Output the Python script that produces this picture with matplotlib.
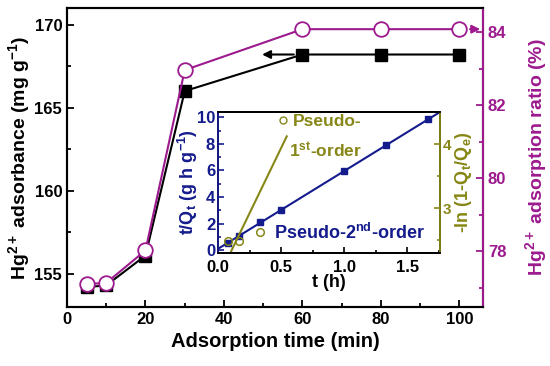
import numpy as np
import matplotlib
matplotlib.use("Agg")
import matplotlib.pyplot as plt
from matplotlib.lines import Line2D

plt.rcParams["font.family"] = ["Liberation Sans", "DejaVu Sans"]
plt.rcParams["font.weight"] = "bold"
plt.rcParams["mathtext.fontset"] = "custom"
plt.rcParams["mathtext.rm"] = "Liberation Sans:bold"
plt.rcParams["mathtext.it"] = "Liberation Sans:bold"
plt.rcParams["mathtext.bf"] = "Liberation Sans:bold"

# main data
time_min = [5, 10, 20, 30, 60, 80, 100]
adsorbance = [154.2, 154.3, 156.1, 166.0, 168.2, 168.2, 168.2]
ratio = [77.1, 77.13, 78.02, 82.96, 84.08, 84.08, 84.08]

# inset data
t_h = [0.083, 0.167, 0.333, 0.5, 1.0, 1.333, 1.667]
t_over_q = [0.54, 1.08, 2.1, 3.0, 5.95, 7.9, 9.85]
t_first = [0.083, 0.167, 0.333]
ln_first = [2.48, 2.49, 2.63]
fit1_t = [0.10, 0.545]
fit1_val = [2.31, 4.12]

purple = "#9C1A8E"
navy = "#141B8C"
olive = "#878717"

fig = plt.figure(figsize=(5.5, 3.66), dpi=100)
ax1 = fig.add_axes([67/550, 1-307/366, (483-67)/550, (307-8)/366])
ax2 = ax1.twinx()

ax1.plot(time_min, adsorbance, color="k", lw=1.5, marker="s", ms=8.5,
         mfc="k", mec="k", zorder=3)
ax2.plot(time_min, ratio, color=purple, lw=1.5, marker="o", ms=10.5,
         mfc="white", mec=purple, mew=1.3, zorder=3)

ax1.set_xlim(0, 106)
ax1.set_ylim(153, 171)
ax2.set_ylim(76.47, 84.66)
ax1.set_xticks([0, 20, 40, 60, 80, 100])
ax1.set_xticks([10, 30, 50, 70, 90], minor=True)
ax1.set_yticks([155, 160, 165, 170])
ax1.set_yticks([157.5, 162.5, 167.5], minor=True)
ax2.set_yticks([78, 80, 82, 84])
ax2.set_yticks([77, 79, 81, 83], minor=True)

for a in (ax1, ax2):
    for s in a.spines.values():
        s.set_linewidth(1.5)
ax2.spines["right"].set_color(purple)
ax1.tick_params(which="both", direction="in", labelsize=12, width=1.3)
ax1.tick_params(which="major", length=5)
ax1.tick_params(which="minor", length=3)
ax2.tick_params(which="both", direction="in", labelsize=12, width=1.3,
                color=purple, labelcolor=purple)
ax2.tick_params(which="major", length=5)
ax2.tick_params(which="minor", length=3)

ax1.set_xlabel("Adsorption time (min)", fontsize=14.5, fontweight="bold")
ax1.set_ylabel("Hg$^{2+}$ adsorbance (mg g$^{-1}$)", fontsize=14,
               fontweight="bold", labelpad=2)
ax2.set_ylabel("Hg$^{2+}$ adsorption ratio (%)", fontsize=14,
               fontweight="bold", color=purple, labelpad=12)

ax1.annotate("", xy=(49, adsorbance[4]), xytext=(58.5, adsorbance[4]),
             arrowprops=dict(arrowstyle="-|>", color="k", lw=1.5,
                             mutation_scale=12))
ax2.annotate("", xy=(106, ratio[-1]), xytext=(102, ratio[-1]),
             arrowprops=dict(arrowstyle="-|>", color=purple, lw=1.5,
                             mutation_scale=12))

# inset
axi = fig.add_axes([218/550, 1-253/366, (440-218)/550, (253-112)/366])
axj = axi.twinx()
axi.set_zorder(5)
axj.set_zorder(6)

coef = np.polyfit(t_h, t_over_q, 1)
fit_x = np.array([0, 1.76])
axi.plot(fit_x, np.polyval(coef, fit_x), color=navy, lw=1.5)
axi.plot(t_h, t_over_q, ls="none", marker="s", ms=4.5, color=navy)
axj.plot(fit1_t, fit1_val, color=olive, lw=1.5)
axj.plot(t_first, ln_first, ls="none", marker="o", ms=5.5, mfc="none",
         mec=olive, mew=1.1)

axi.set_xlim(0, 1.76)
axi.set_ylim(-0.22, 10.4)
axj.set_ylim(2.3, 4.5)
axi.set_xticks([0.0, 0.5, 1.0, 1.5])
axi.set_xticks([0.25, 0.75, 1.25, 1.75], minor=True)
axi.set_yticks([0, 2, 4, 6, 8, 10])
axi.set_yticks([1, 3, 5, 7, 9], minor=True)
axj.set_yticks([3, 4])
axj.set_yticks([2.5, 3.5, 4.5], minor=True)
axi.set_xticklabels(["0.0", "0.5", "1.0", "1.5"])

for a in (axi, axj):
    for s in a.spines.values():
        s.set_linewidth(1.3)
axj.spines["left"].set_color(navy)
axj.spines["right"].set_color(olive)
axi.tick_params(axis="x", which="both", direction="in", labelsize=12,
                width=1.2, pad=5)
axi.tick_params(axis="y", which="both", direction="in", labelsize=12,
                width=1.2, color=navy, labelcolor=navy, pad=2)
axj.tick_params(axis="y", which="both", direction="in", labelsize=11,
                width=1.2, color=olive, labelcolor=olive, pad=2)
for a in (axi, axj):
    a.tick_params(which="major", length=4)
    a.tick_params(which="minor", length=2.5)

axi.set_xlabel("t (h)", fontsize=13, fontweight="bold", labelpad=-1)
axi.set_ylabel("t/Q$_t$ (g h g$^{-1}$)", fontsize=13, fontweight="bold",
               color=navy, labelpad=-2)
axj.set_ylabel("-ln (1-Q$_t$/Q$_e$)", fontsize=13, fontweight="bold",
               color=olive, labelpad=1)

axi.text(0.25, 0.14, "Pseudo-2$^{nd}$-order", transform=axi.transAxes,
         color=navy, fontsize=13, fontweight="bold", va="center")
h = Line2D([], [], ls="none", marker="o", ms=5, mfc="none", mec=olive,
           mew=1.0)
leg = axj.legend([h], ["Pseudo-"], loc="center left",
                 bbox_to_anchor=(0.23, 0.93), frameon=False, borderpad=0,
                 handlelength=0.6, handletextpad=0.3,
                 prop={"size": 12.5, "weight": "bold"})
for txt in leg.get_texts():
    txt.set_color(olive)
axj.text(0.32, 0.73, "1$^{st}$-order", transform=axj.transAxes,
         color=olive, fontsize=12.5, fontweight="bold", va="center")

fig.savefig("out.png", dpi=100)
